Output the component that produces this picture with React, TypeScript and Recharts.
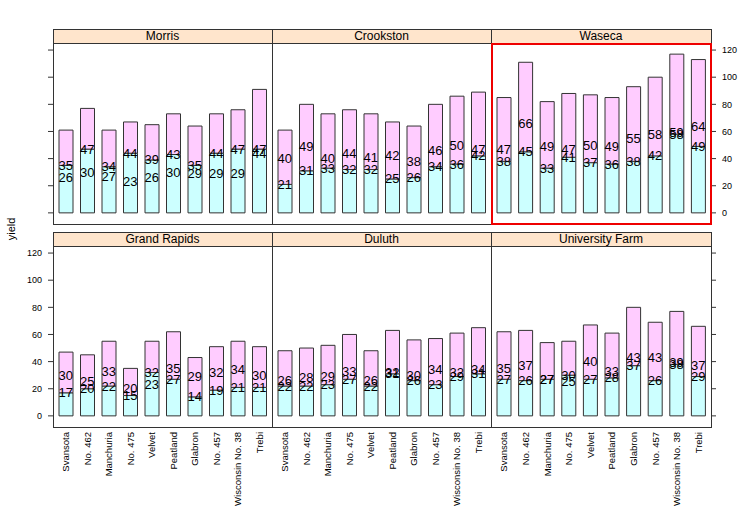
import React from "react";
import {
  ComposedChart,
  Bar,
  Line,
  XAxis,
  YAxis,
  LabelList,
} from "recharts";

const varieties = [
  "Svansota",
  "No. 462",
  "Manchuria",
  "No. 475",
  "Velvet",
  "Peatland",
  "Glabron",
  "No. 457",
  "Wisconsin No. 38",
  "Trebi",
];

// cyan = lower segment (1932), pink = upper segment (1931)
const morris1932 = [35, 47, 34, 44, 39, 43, 35, 44, 47, 47];
const morris1931 = [26, 30, 27, 23, 26, 30, 29, 29, 29, 44];
const crookston1932 = [21, 31, 33, 32, 32, 25, 26, 34, 36, 42];
const crookston1931 = [40, 49, 40, 44, 41, 42, 38, 46, 50, 47];
const waseca1932 = [38, 45, 33, 41, 37, 36, 38, 42, 58, 49];
const waseca1931 = [47, 66, 49, 47, 50, 49, 55, 58, 59, 64];
const grandRapids1932 = [17, 20, 22, 15, 32, 27, 14, 19, 21, 21];
const grandRapids1931 = [30, 25, 33, 20, 23, 35, 29, 32, 34, 30];
const duluth1932 = [22, 22, 23, 27, 22, 31, 26, 23, 29, 31];
const duluth1931 = [26, 28, 29, 33, 26, 32, 30, 34, 32, 34];
const uniFarm1932 = [27, 26, 27, 30, 27, 28, 37, 26, 38, 29];
const uniFarm1931 = [35, 37, 27, 25, 40, 33, 43, 43, 39, 37];

const yTicks = [0, 20, 40, 60, 80, 100, 120];

const makeRows = (lower: number[], upper: number[]) =>
  varieties.map((v, i) => ({ variety: v, lower: lower[i], upper: upper[i] }));

const CYAN = "#CCFFFF";
const PINK = "#FFCCFF";
const STRIP = "#FFE5CC";
const EDGE = "#333";

const EmptyTick = () => <g />;

const VarietyTick = (props: any) => {
  const { x, y, payload } = props;
  return (
    <text
      x={x}
      y={y}
      transform={`rotate(-90, ${x}, ${y})`}
      textAnchor="end"
      dominantBaseline="central"
      fontSize={9.5}
      fill="#000"
    >
      {payload.value}
    </text>
  );
};

const ValueLabel = (props: any) => {
  const x = props.x ?? props.viewBox?.x;
  const y = props.y ?? props.viewBox?.y;
  return (
    <text
      x={x}
      y={y}
      textAnchor="middle"
      dominantBaseline="central"
      fontSize={13}
      fill="#000"
    >
      {Math.round(props.value)}
    </text>
  );
};

interface PanelProps {
  name: string;
  lower: number[];
  upper: number[];
  x: number;
  y: number;
  w: number;
  h: number;
  yAxis?: "left" | "right";
  yLabels?: boolean;
  xLabels?: boolean;
  highlight?: boolean;
}

function Panel({ name, lower, upper, x, y, w, h, yAxis, yLabels, xLabels, highlight }: PanelProps) {
  const side = 45;
  const data = makeRows(lower, upper);
  return (
    <>
      <div style={{ position: "absolute", left: x - side, top: y }}>
        <ComposedChart
          width={w + side * 2}
          height={h + (xLabels ? 100 : 0)}
          data={data}
          margin={{
            top: 0,
            bottom: 0,
            left: yAxis === "left" ? 0 : side,
            right: yAxis === "right" ? 0 : side,
          }}
        >
          <XAxis
            dataKey="variety"
            hide={!xLabels}
            height={100}
            interval={0}
            axisLine={false}
            tickLine={false}
            tickSize={0}
            tickMargin={5}
            padding={{ left: 2, right: 2 }}
            tick={<VarietyTick />}
          />
          <YAxis
            type="number"
            domain={[-8.2, 125.2]}
            ticks={yTicks}
            hide={!yAxis}
            orientation={yAxis ?? "left"}
            width={side}
            axisLine={false}
            tickSize={5}
            tickMargin={6}
            tickLine={{ stroke: EDGE }}
            tick={yLabels ? { fill: "#000", fontSize: 9 } : <EmptyTick />}
          />
          <Bar dataKey="lower" stackId="a" fill={CYAN} stroke={EDGE} barSize={14} isAnimationActive={false} />
          <Bar dataKey="upper" stackId="a" fill={PINK} stroke={EDGE} barSize={14} isAnimationActive={false} />
          <Line dataKey="lower" stroke="none" dot={false} activeDot={false} isAnimationActive={false}>
            <LabelList dataKey="lower" content={<ValueLabel />} />
          </Line>
          <Line dataKey="upper" stroke="none" dot={false} activeDot={false} isAnimationActive={false}>
            <LabelList dataKey="upper" content={<ValueLabel />} />
          </Line>
        </ComposedChart>
      </div>
      <div
        style={{
          position: "absolute",
          left: x,
          top: y - 14,
          width: w,
          height: 14,
          background: STRIP,
          textAlign: "center",
          fontSize: 12,
          lineHeight: "14px",
        }}
      >
        {name}
      </div>
      <div
        style={{
          position: "absolute",
          left: x,
          top: y - 14,
          width: w + 1,
          height: h + 15,
          border: `1px solid ${EDGE}`,
          boxSizing: "border-box",
          pointerEvents: "none",
        }}
      />
      <div
        style={{
          position: "absolute",
          left: x,
          top: y,
          width: w + 1,
          height: 1,
          background: EDGE,
        }}
      />
      {highlight && (
        <div
          style={{
            position: "absolute",
            left: x - 0.5,
            top: y,
            width: w + 1.5,
            height: h + 1,
            border: "2px solid #ee0000",
            boxSizing: "border-box",
            pointerEvents: "none",
          }}
        />
      )}
    </>
  );
}

export default function App() {
  const cols = [53, 272, 491];
  const top1 = 43;
  const top2 = 246;
  const h = 181;
  return (
    <div
      style={{
        position: "absolute",
        left: 0,
        top: 0,
        width: 755,
        height: 531,
        background: "#fff",
        fontFamily: "'Liberation Sans', Arial, sans-serif",
        overflow: "hidden",
      }}
    >
      <Panel name="Morris" lower={morris1932} upper={morris1931} x={cols[0]} y={top1} w={219} h={h} yAxis="left" />
      <Panel name="Crookston" lower={crookston1932} upper={crookston1931} x={cols[1]} y={top1} w={219} h={h} />
      <Panel name="Waseca" lower={waseca1932} upper={waseca1931} x={cols[2]} y={top1} w={220} h={h} yAxis="right" yLabels highlight />
      <Panel name="Grand Rapids" lower={grandRapids1932} upper={grandRapids1931} x={cols[0]} y={top2} w={219} h={h} yAxis="left" yLabels xLabels />
      <Panel name="Duluth" lower={duluth1932} upper={duluth1931} x={cols[1]} y={top2} w={219} h={h} xLabels />
      <Panel name="University Farm" lower={uniFarm1932} upper={uniFarm1931} x={cols[2]} y={top2} w={220} h={h} yAxis="right" xLabels />
      <svg width={30} height={531} style={{ position: "absolute", left: 0, top: 0 }}>
        <text
          x={11}
          y={229}
          transform="rotate(-90, 11, 229)"
          textAnchor="middle"
          dominantBaseline="central"
          fontSize={11}
          fill="#000"
        >
          yield
        </text>
      </svg>
    </div>
  );
}
